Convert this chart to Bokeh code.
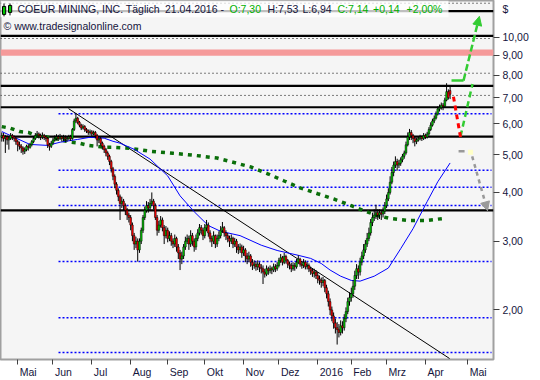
import numpy as np
from bokeh.plotting import figure
from bokeh.models import (Range1d, FixedTicker, CustomJSTickFormatter, Label,
                          ColumnDataSource, Arrow, NormalHead)
from bokeh.embed import file_html
from bokeh.resources import INLINE

# ---------------- data ----------------
closes = [
    5.60, 5.50, 5.55, 5.45, 5.50, 5.60, 5.55, 5.50, 5.40, 5.30,
    5.25, 5.20, 5.10, 5.15, 5.25, 5.22, 5.30, 5.40, 5.50, 5.60,
    5.65, 5.60, 5.55, 5.60, 5.55, 5.50, 5.30, 5.25, 5.35, 5.45,
    5.50, 5.55, 5.50, 5.55, 5.50, 5.52, 5.48, 5.50, 5.55, 5.50,
    5.80, 6.10, 6.20, 6.05, 5.95, 5.85, 5.90, 5.80, 5.75, 5.70,
    5.72, 5.65, 5.70, 5.60, 5.45, 5.50, 5.35, 5.25, 5.15, 5.05,
    4.95, 4.80, 4.60, 4.40, 4.20, 4.05, 3.90, 3.75, 3.80, 3.70,
    3.60, 3.50, 3.45, 3.30, 3.10, 2.95, 3.00, 2.85, 3.00, 3.20,
    3.45, 3.60, 3.70, 3.65, 3.75, 3.80, 3.70, 3.45, 3.20, 3.30,
    3.40, 3.25, 3.10, 3.20, 3.05, 3.10, 3.00, 2.95, 3.05, 2.90,
    2.80, 2.70, 2.75, 2.90, 3.00, 3.05, 2.95, 3.10, 3.00, 2.90,
    3.05, 3.15, 3.25, 3.20, 3.10, 3.25, 3.30, 3.15, 3.05, 3.00,
    3.10, 2.95, 3.05, 3.10, 3.20, 3.25, 3.15, 3.10, 3.05, 3.00,
    3.05, 2.95, 3.00, 2.90, 2.85, 2.90, 2.80, 2.85, 2.75, 2.70,
    2.75, 2.65, 2.60, 2.62, 2.58, 2.62, 2.57, 2.55, 2.50, 2.47,
    2.55, 2.52, 2.55, 2.53, 2.58, 2.55, 2.60, 2.68, 2.72, 2.65,
    2.74, 2.68, 2.62, 2.60, 2.55, 2.60, 2.58, 2.65, 2.70, 2.62,
    2.60, 2.65, 2.58, 2.60, 2.55, 2.52, 2.48, 2.50, 2.45, 2.40,
    2.38, 2.35, 2.38, 2.28, 2.20, 2.10, 2.00, 1.93, 1.85, 1.80,
    1.78, 1.75, 1.82, 1.80, 1.90, 1.98, 2.10, 2.15, 2.20, 2.30,
    2.45, 2.55, 2.50, 2.65, 2.75, 2.85, 2.95, 3.05, 3.15, 3.35,
    3.45, 3.50, 3.55, 3.50, 3.55, 3.52, 3.58, 3.70, 3.85, 4.00,
    4.25, 4.50, 4.70, 4.80, 4.70, 4.75, 4.85, 4.95, 5.05, 5.30,
    5.55, 5.70, 5.60, 5.50, 5.40, 5.45, 5.50, 5.55, 5.50, 5.60,
    5.55, 5.65, 5.80, 5.95, 6.10, 6.20, 6.35, 6.55, 6.60, 6.70,
    6.65, 6.90, 7.25, 7.00, 7.14]

highs = [
    5.70, 5.68, 5.62, 5.60, 5.58, 5.68, 5.65, 5.60, 5.55, 5.45,
    5.40, 5.32, 5.25, 5.22, 5.30, 5.32, 5.36, 5.45, 5.58, 5.68,
    5.75, 5.70, 5.66, 5.70, 5.65, 5.60, 5.55, 5.36, 5.42, 5.52,
    5.60, 5.64, 5.62, 5.65, 5.60, 5.62, 5.60, 5.58, 5.62, 5.62,
    5.85, 6.18, 6.37, 6.25, 6.10, 6.00, 5.98, 5.95, 5.85, 5.80,
    5.80, 5.78, 5.76, 5.75, 5.65, 5.58, 5.55, 5.40, 5.30, 5.20,
    5.10, 5.00, 4.85, 4.65, 4.45, 4.25, 4.10, 3.95, 3.90, 3.85,
    3.75, 3.65, 3.55, 3.50, 3.35, 3.15, 3.08, 3.05, 3.05, 3.25,
    3.50, 3.68, 3.80, 3.78, 3.85, 4.00, 3.85, 3.75, 3.50, 3.38,
    3.48, 3.45, 3.30, 3.28, 3.25, 3.18, 3.15, 3.05, 3.12, 3.08,
    2.95, 2.85, 2.82, 2.95, 3.08, 3.12, 3.10, 3.20, 3.15, 3.05,
    3.12, 3.22, 3.32, 3.30, 3.25, 3.32, 3.40, 3.35, 3.20, 3.10,
    3.18, 3.12, 3.12, 3.18, 3.28, 3.36, 3.28, 3.20, 3.15, 3.10,
    3.12, 3.08, 3.06, 3.04, 2.95, 2.96, 2.94, 2.92, 2.88, 2.80,
    2.82, 2.78, 2.70, 2.68, 2.66, 2.68, 2.65, 2.62, 2.60, 2.55,
    2.60, 2.58, 2.60, 2.58, 2.63, 2.62, 2.65, 2.72, 2.78, 2.75,
    2.80, 2.77, 2.70, 2.66, 2.64, 2.65, 2.64, 2.70, 2.76, 2.72,
    2.66, 2.70, 2.68, 2.65, 2.63, 2.58, 2.56, 2.55, 2.53, 2.50,
    2.45, 2.42, 2.43, 2.40, 2.32, 2.24, 2.14, 2.04, 1.97, 1.90,
    1.86, 1.84, 1.88, 1.87, 1.95, 2.03, 2.15, 2.22, 2.28, 2.38,
    2.52, 2.62, 2.60, 2.72, 2.82, 2.95, 3.02, 3.15, 3.25, 3.42,
    3.55, 3.62, 3.72, 3.62, 3.62, 3.60, 3.66, 3.78, 3.95, 4.10,
    4.40, 4.65, 4.80, 4.95, 4.88, 4.85, 4.92, 5.02, 5.12, 5.40,
    5.70, 5.82, 5.78, 5.65, 5.55, 5.52, 5.58, 5.62, 5.60, 5.68,
    5.66, 5.72, 5.88, 6.05, 6.18, 6.30, 6.45, 6.65, 6.72, 6.80,
    6.78, 7.00, 7.62, 7.35, 7.53]

lows = [
    5.40, 5.40, 5.05, 5.30, 5.15, 5.45, 5.45, 5.40, 5.30, 5.10,
    5.15, 5.05, 5.00, 5.02, 5.10, 5.12, 5.18, 5.25, 5.35, 5.45,
    5.52, 5.50, 5.45, 5.48, 5.45, 5.40, 5.20, 5.12, 5.20, 5.30,
    5.40, 5.45, 5.42, 5.45, 5.40, 5.42, 5.38, 5.40, 5.44, 5.42,
    5.46, 5.75, 6.02, 5.98, 5.88, 5.78, 5.80, 5.72, 5.68, 5.62,
    5.62, 5.58, 5.60, 5.50, 5.25, 5.35, 5.28, 5.15, 5.05, 4.95,
    4.85, 4.70, 4.50, 4.30, 4.10, 3.95, 3.80, 3.40, 3.65, 3.60,
    3.50, 3.40, 3.35, 3.20, 3.00, 2.85, 2.88, 2.66, 2.80, 2.95,
    3.15, 3.40, 3.55, 3.55, 3.60, 3.70, 3.62, 3.40, 3.10, 3.15,
    3.25, 3.18, 2.95, 3.05, 2.98, 3.00, 2.92, 2.88, 2.90, 2.82,
    2.70, 2.53, 2.62, 2.70, 2.85, 2.95, 2.85, 2.90, 2.92, 2.82,
    2.85, 3.00, 3.10, 3.12, 3.02, 3.05, 3.18, 3.08, 2.98, 2.90,
    2.95, 2.88, 2.90, 3.00, 3.05, 3.15, 3.08, 3.02, 2.98, 2.90,
    2.95, 2.88, 2.90, 2.80, 2.78, 2.80, 2.72, 2.75, 2.65, 2.62,
    2.65, 2.58, 2.53, 2.55, 2.52, 2.53, 2.50, 2.48, 2.33, 2.42,
    2.44, 2.46, 2.48, 2.47, 2.50, 2.50, 2.52, 2.57, 2.64, 2.60,
    2.62, 2.63, 2.56, 2.54, 2.50, 2.52, 2.52, 2.55, 2.62, 2.58,
    2.55, 2.56, 2.54, 2.54, 2.50, 2.46, 2.43, 2.42, 2.40, 2.34,
    2.32, 2.28, 2.30, 2.22, 2.14, 2.04, 1.94, 1.87, 1.79, 1.74,
    1.63, 1.70, 1.72, 1.74, 1.77, 1.86, 1.95, 2.05, 2.10, 2.15,
    2.25, 2.40, 2.40, 2.45, 2.60, 2.70, 2.80, 2.90, 3.00, 3.10,
    3.28, 3.38, 3.42, 3.40, 3.42, 3.40, 3.45, 3.52, 3.65, 3.80,
    3.95, 4.20, 4.40, 4.62, 4.55, 4.62, 4.68, 4.78, 4.88, 5.00,
    5.25, 5.45, 5.45, 5.35, 5.25, 5.32, 5.40, 5.44, 5.42, 5.45,
    5.48, 5.50, 5.60, 5.75, 5.90, 6.02, 6.15, 6.30, 6.45, 6.52,
    6.50, 6.60, 6.85, 6.92, 6.94]

first_open = 5.55
last_open = 7.30          # O:7,30 from the header

# moving averages (bar index, value)
ma50_x = [0, 7, 16, 26, 33, 43, 50, 58, 63, 67, 75, 84, 94, 101, 109, 117, 124, 135,
          147, 156, 168, 175, 181, 186, 192, 198, 203, 211, 219, 226, 233, 241, 247, 254]
ma50_y = [5.73, 5.54, 5.31, 5.28, 5.38, 5.47, 5.54, 5.51, 5.41, 5.35, 5.16, 4.87, 4.41,
          3.92, 3.57, 3.29, 3.18, 3.10, 2.93, 2.84, 2.76, 2.71, 2.63, 2.53, 2.44, 2.38,
          2.37, 2.44, 2.56, 2.87, 3.23, 3.79, 4.26, 4.76]
ma200_x = [0, 5, 10, 15, 19, 24, 29, 34, 39, 44, 49, 54, 59, 63, 73, 84, 97, 109, 122,
           131, 141, 151, 160, 169, 179, 188, 198, 205, 213, 220, 230, 241, 250]
ma200_y = [5.90, 5.84, 5.73, 5.70, 5.60, 5.57, 5.51, 5.44, 5.38, 5.35, 5.28, 5.25, 5.22,
           5.22, 5.19, 5.10, 5.04, 4.98, 4.90, 4.78, 4.65, 4.46, 4.28, 4.11, 3.97, 3.85,
           3.70, 3.59, 3.49, 3.43, 3.39, 3.39, 3.43]

# horizontal levels
solid_levels = [11.66, 10.08, 7.505, 6.614, 5.559, 3.597]
dotted_levels = [12.22, 9.924, 8.084, 7.092]
blue_levels = [6.363, 4.557, 4.125, 3.704, 2.660, 1.908, 1.555]
red_zone = [8.963, 9.305]

# trend line (bar index, value)
trend_x = [37.8, 253.7]
trend_y = [6.56, 1.501]

# projections (bar index, value)
green_target_x = [254.8, 261.6]
green_target_y = [7.74, 7.74]
green_arrow_x = [261.6, 270.6]
green_arrow_y = [7.74, 11.31]
green_up_x = [259.9, 266.7]
green_up_y = [5.57, 7.59]
red_down_x = [255.9, 259.9]
red_down_y = [7.04, 5.54]
gray_flat_x = [258.8, 262.2]
gray_flat_y = [5.10, 5.10]
gray_arrow_x = [266.5, 275.2]
gray_arrow_y = [4.95, 3.59]
marker_x = [265.6]
marker_y = [5.07]

# axes
month_ticks = [9, 29, 51, 73, 94, 115, 137, 157, 179, 198, 218, 240, 264]
month_labels = ["Mai", "Jun", "Jul", "Aug", "Sep", "Okt", "Nov", "Dez",
                "2016", "Feb", "Mrz", "Apr", "Mai"]
price_ticks = [2, 3, 4, 5, 6, 7, 8, 9, 10]
currency_label = "$"

# ---------------- layout helpers (pixel -> data for annotations) ----------------
X0, DX = 1.3, 1.765


def xi(px):
    return (px - X0) / DX


def yv(py):
    return 10 ** (1 - (py - 37) / 393.4)


FONT = "Liberation Sans"
FSIZE = 10.5
DARK = "#14143C"
GREEN_T = "#00B000"

# Arial/Liberation Sans advance widths (1/1000 em) for left-aligning month labels
CHAR_W = {"M": 833, "a": 556, "i": 222, "J": 500, "u": 556, "n": 556, "l": 222,
          "A": 667, "g": 556, "S": 667, "e": 556, "p": 556, "O": 778, "k": 500,
          "t": 278, "N": 722, "o": 556, "v": 500, "D": 722, "z": 500, "F": 611,
          "b": 556, "r": 333, "0": 556, "1": 556, "2": 556, "6": 556}


def text_w(s):
    return sum(CHAR_W.get(ch, 556) for ch in s) * FSIZE / 1000.0


label_pos = [t + (2.0 + text_w(s) / 2.0) / DX for t, s in zip(month_ticks, month_labels)]
cur_pos = yv(9)

p = figure(width=540, height=380,
           x_range=Range1d(xi(0), xi(493)), y_range=Range1d(yv(362), yv(0)),
           y_axis_type="log", y_axis_location="right",
           output_backend="svg", toolbar_location=None,
           min_border_left=0, min_border_top=0, min_border_right=47, min_border_bottom=18)
p.background_fill_color = "#F5F5F5"
p.border_fill_color = "white"
p.outline_line_color = "#A0A0A0"
p.outline_line_width = 2
p.grid.visible = False

# red zone
p.quad(left=[xi(0)], right=[xi(493)], bottom=[red_zone[0]], top=[red_zone[1]],
       fill_color="#F59A9A", line_color=None)

# levels
n_s = len(solid_levels)
p.segment(x0=[xi(0)] * n_s, x1=[xi(493)] * n_s, y0=solid_levels, y1=solid_levels,
          line_color="black", line_width=2.2)
n_d = len(dotted_levels)
p.segment(x0=[xi(0)] * n_d, x1=[xi(491)] * n_d, y0=dotted_levels, y1=dotted_levels,
          line_color="black", line_width=1, line_dash="1 3")
n_b = len(blue_levels)
p.segment(x0=[xi(58)] * n_b, x1=[xi(491)] * n_b, y0=blue_levels, y1=blue_levels,
          line_color="#0000FF", line_width=1.5, line_dash="2 2")

# trend line
p.line(trend_x, trend_y, line_color="black", line_width=1)

# moving averages
p.line(ma200_x, ma200_y, line_color="#0A6E0A", line_width=3.5, line_dash="4 5")
p.line(ma50_x, ma50_y, line_color="#0000FF", line_width=1)

# candles
opens = [first_open] + closes[:-1]
opens[-1] = last_open
idx = np.arange(len(closes))
o = np.array(opens)
c = np.array(closes)
src = ColumnDataSource(dict(
    x=idx, high=highs, low=lows,
    top=np.maximum(o, c), bottom=np.minimum(o, c),
    color=np.where(c >= o, "#00C800", "#FF0000")))
p.segment(x0="x", x1="x", y0="low", y1="high", source=src, line_color="black", line_width=1)
p.vbar(x="x", width=1.0, top="top", bottom="bottom", source=src,
       fill_color="color", line_color="black", line_width=0.5)

# projections
p.line(green_target_x, green_target_y, line_color="#33CC33", line_width=2.5)
p.line(green_up_x, green_up_y, line_color="#33CC33", line_width=2.5, line_dash="6 4")
p.add_layout(Arrow(end=NormalHead(size=9, fill_color="#33CC33", line_color="#33CC33"),
                   x_start=green_arrow_x[0], y_start=green_arrow_y[0],
                   x_end=green_arrow_x[1], y_end=green_arrow_y[1],
                   line_color="#33CC33", line_width=2.5, line_dash="7 3"))
p.line(red_down_x, red_down_y, line_color="#FF0000", line_width=3, line_dash="5 4")
p.line(gray_flat_x, gray_flat_y, line_color="#999999", line_width=2.5)
p.add_layout(Arrow(end=NormalHead(size=9, fill_color="#999999", line_color="#999999"),
                   x_start=gray_arrow_x[0], y_start=gray_arrow_y[0],
                   x_end=gray_arrow_x[1], y_end=gray_arrow_y[1],
                   line_color="#999999", line_width=2.5, line_dash="4 4"))
p.scatter(marker_x, marker_y, marker="square", size=5, fill_color="#FFFFC8", line_color=None)

# title box and icon
p.quad(left=[xi(0)], right=[xi(448)], bottom=[yv(17)], top=[yv(0)],
       fill_color="white", fill_alpha=0.75, line_color=None)
p.segment(x0=[xi(3.5), xi(9.5)], x1=[xi(3.5), xi(9.5)], y0=[yv(16), yv(15)], y1=[yv(3), yv(3)],
          line_color="black", line_width=1)
p.quad(left=[xi(2), xi(8)], right=[xi(5.2), xi(11.2)], bottom=[yv(14), yv(12)], top=[yv(6), yv(5)],
       fill_color="#00C800", line_color="black", line_width=1)

title_parts = [
    (17, "COEUR MINING, INC. Täglich", DARK),
    (164.5, "21.04.2016", DARK),
    (220, "-", DARK),
    (229, "O:7,30", GREEN_T),
    (267, "H:7,53", DARK),
    (302, "L:6,94", DARK),
    (337, "C:7,14", GREEN_T),
    (372.5, "+0,14", GREEN_T),
    (406, "+2,00%", GREEN_T),
]
for px, txt, col in title_parts:
    p.add_layout(Label(x=xi(px), y=yv(9), text=txt, text_font=FONT, text_font_size="10.5px",
                       text_color=col, text_baseline="middle", text_align="left"))
p.add_layout(Label(x=xi(3), y=yv(25.5), text="© www.tradesignalonline.com", text_font=FONT,
                   text_font_size="10.5px", text_color=DARK, text_baseline="middle",
                   text_align="left"))

# right (price) axis: tick marks as minor ticks, labels (incl. "$") on hidden major ticks
p.yaxis.ticker = FixedTicker(ticks=price_ticks + [cur_pos], minor_ticks=price_ticks)
p.yaxis.formatter = CustomJSTickFormatter(
    args=dict(cur=currency_label),
    code="if (tick > 11) { return cur; } return tick.toFixed(2).replace('.', ',');")
p.yaxis.major_label_text_font = FONT
p.yaxis.major_label_text_font_size = "10.5px"
p.yaxis.major_label_text_color = DARK
p.yaxis.major_tick_out = 6
p.yaxis.major_tick_in = 0
p.yaxis.major_tick_line_color = None
p.yaxis.minor_tick_out = 6
p.yaxis.minor_tick_in = 0
p.yaxis.minor_tick_line_color = "#404040"
p.yaxis.axis_line_color = None
p.yaxis.major_label_standoff = 3

# bottom (time) axis: month-start tick marks as minor ticks, labels left of them
p.xaxis.ticker = FixedTicker(ticks=label_pos, minor_ticks=month_ticks)
p.xaxis.formatter = CustomJSTickFormatter(
    args=dict(pos=label_pos, labs=month_labels),
    code="""
let b = 0;
for (let k = 0; k < pos.length; k++) {
  if (Math.abs(pos[k] - tick) < Math.abs(pos[b] - tick)) { b = k; }
}
return labs[b];
""")
p.xaxis.major_tick_out = 5
p.xaxis.major_tick_in = 0
p.xaxis.major_tick_line_color = None
p.xaxis.minor_tick_out = 5
p.xaxis.minor_tick_in = 0
p.xaxis.minor_tick_line_color = "#404040"
p.xaxis.axis_line_color = None
p.xaxis.major_label_text_font = FONT
p.xaxis.major_label_text_font_size = "10.5px"
p.xaxis.major_label_text_line_height = 1.0
p.xaxis.major_label_text_color = DARK
p.xaxis.major_label_standoff = 1

open("out.html", "w").write(file_html(p, INLINE))
